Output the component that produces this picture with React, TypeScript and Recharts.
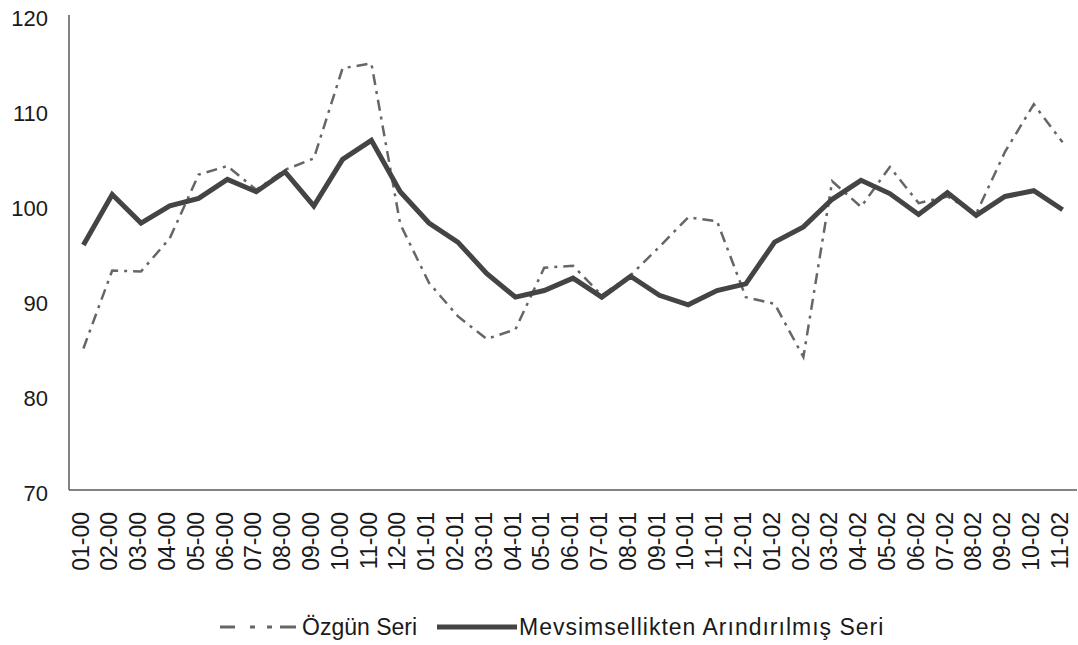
import { LineChart, Line, XAxis, YAxis, Legend } from 'recharts';

// Ay-yıl etiketleri (AA-YY)
const months = [
  '01-00', '02-00', '03-00', '04-00', '05-00', '06-00', '07-00', '08-00', '09-00', '10-00', '11-00', '12-00',
  '01-01', '02-01', '03-01', '04-01', '05-01', '06-01', '07-01', '08-01', '09-01', '10-01', '11-01', '12-01',
  '01-02', '02-02', '03-02', '04-02', '05-02', '06-02', '07-02', '08-02', '09-02', '10-02', '11-02',
];

const ozgun = [
  84.9, 93.1, 93.0, 96.5, 103.2, 104.1, 101.6, 103.7, 104.9, 114.4, 114.9, 98.0,
  91.8, 88.3, 85.9, 86.9, 93.4, 93.6, 90.5, 92.6, 95.6, 98.7, 98.3, 90.3,
  89.6, 84.0, 102.5, 99.8, 104.0, 100.2, 100.9, 99.1, 105.6, 110.6, 106.6,
];

const arindirilmis = [
  95.8, 101.1, 98.1, 99.9, 100.7, 102.7, 101.4, 103.5, 99.9, 104.8, 106.8, 101.4,
  98.1, 96.1, 92.8, 90.3, 91.0, 92.3, 90.3, 92.5, 90.5, 89.5, 91.0, 91.7,
  96.1, 97.7, 100.6, 102.6, 101.2, 99.0, 101.3, 98.9, 100.9, 101.5, 99.5,
];

const yTicks = [70, 80, 90, 100, 110, 120];

const data = months.map((m, i) => ({ name: m, ozgun: ozgun[i], arindirilmis: arindirilmis[i] }));

const FONT = 'Arial, "Liberation Sans", Helvetica, sans-serif';
const AXIS = '#5a5a5a';
const DASH_COLOR = '#666666';
const SOLID_COLOR = '#444444';

function MonthTick({ x, y, payload }: any) {
  return (
    <text
      x={x - 3}
      y={y}
      transform={`rotate(-90, ${x - 3}, ${y})`}
      textAnchor="end"
      dy="0.36em"
      fontSize={23}
      fontFamily={FONT}
      fill="#1a1a1a"
    >
      {payload.value}
    </text>
  );
}

function renderLegend() {
  return (
    <div
      style={{
        display: 'flex',
        alignItems: 'center',
        paddingLeft: 220,
        paddingTop: 26,
        fontFamily: FONT,
        fontSize: 23,
        lineHeight: '22px',
        color: '#1a1a1a',
      }}
    >
      <svg width={76} height={8} style={{ marginRight: 6 }}>
        <line x1={0} y1={4} x2={76} y2={4} stroke={DASH_COLOR} strokeWidth={3} strokeDasharray="15 15 5 12 5 8 16" />
      </svg>
      <span>Özgün Seri</span>
      <svg width={80} height={8} style={{ marginLeft: 20, marginRight: 2 }}>
        <line x1={0} y1={4} x2={80} y2={4} stroke={SOLID_COLOR} strokeWidth={5} />
      </svg>
      <span style={{ letterSpacing: 1 }}>Mevsimsellikten Arındırılmış Seri</span>
    </div>
  );
}

export default function App() {
  return (
    <div style={{ position: 'absolute', left: 0, top: 0, background: '#fff' }}>
      <LineChart width={1078} height={645} data={data} margin={{ top: 15, right: 1, bottom: 0, left: 0 }}>
        <XAxis
          dataKey="name"
          interval={0}
          height={100}
          padding={{ left: 14.4, right: 14.4 }}
          tickLine={false}
          tickSize={0}
          tickMargin={22}
          tick={<MonthTick />}
          stroke={AXIS}
          strokeWidth={1.5}
        />
        <YAxis
          domain={[70, 120]}
          ticks={yTicks}
          width={69}
          tickLine={false}
          tickSize={0}
          tickMargin={21}
          stroke={AXIS}
          strokeWidth={1.5}
          tick={{ fontSize: 22, fontFamily: FONT, fill: '#1a1a1a', dy: 3 }}
        />
        <Legend verticalAlign="bottom" height={55} wrapperStyle={{ left: 0, width: 1078 }} content={renderLegend} />
        <Line
          dataKey="ozgun"
          name="Özgün Seri"
          stroke={DASH_COLOR}
          strokeWidth={2.5}
          strokeDasharray="11 6 3 6"
          dot={false}
          isAnimationActive={false}
        />
        <Line
          dataKey="arindirilmis"
          name="Mevsimsellikten Arındırılmış Seri"
          stroke={SOLID_COLOR}
          strokeWidth={5}
          dot={false}
          isAnimationActive={false}
        />
      </LineChart>
    </div>
  );
}
